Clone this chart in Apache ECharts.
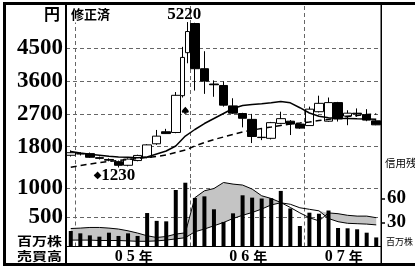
<!DOCTYPE html>
<html><head><meta charset="utf-8">
<script src="https://cdn.jsdelivr.net/npm/echarts@6/dist/echarts.min.js"></script>
<style>html,body{margin:0;padding:0;background:#fff}#c{width:415px;height:266px}</style>
</head><body><div id="c"></div>
<script>
// ---- data ----
const months = ['2004-12',
 '2005-01','2005-02','2005-03','2005-04','2005-05','2005-06','2005-07','2005-08','2005-09','2005-10','2005-11','2005-12',
 '2006-01','2006-02','2006-03','2006-04','2006-05','2006-06','2006-07','2006-08','2006-09','2006-10','2006-11','2006-12',
 '2007-01','2007-02','2007-03','2007-04','2007-05','2007-06','2007-07','2007-08'];
const yearNames = ['2005','2006','2007'];
const yearLabels = ['05年','06年','07年'];
const priceTicks = [1800, 2700, 3600, 4500];
const volumeTicks = [500, 1000];
const creditTicks = [30, 60];

// monthly candles (index 12 = Dec 2005 drawn as two half-month candles)
const openP  = [1565,1610,1610,1500,1450,1390,1290,1420,1510,1880,2210,2190,null,5180,3940,3520,3480,2920,2710,2550,2060,2030,2440,2500,2420,2380,2760,2500,3010,2640,2720,2680,2510];
const closeP = [1635,1600,1510,1480,1430,1290,1460,1560,1850,2090,2160,3210,null,3940,3600,3500,2940,2720,2580,2080,2050,2460,2570,2420,2310,2830,2990,3010,2560,2720,2700,2530,2400];
const lowP   = [1530,1560,1490,1450,1400,1230,1260,1400,1480,1850,2150,2170,null,3340,3250,3170,2900,2700,2330,1900,1980,2000,2420,2120,2290,2380,2740,2480,2490,2390,2620,2500,2390];
const highP  = [1700,1650,1640,1530,1480,1420,1480,1580,1870,2260,2290,3300,null,5200,4420,3620,3590,3130,2730,2700,2300,2480,2760,2530,2440,2900,3200,3150,3030,2800,2850,2830,2560];
const halfMonthIndex = 12;
const halfOpen  = [3200, 4380];
const halfClose = [4250, 4960];
const halfLow   = [3150, 4090];
const halfHigh  = [4540, 5220];

const maShort = [1668,1627,1591,1564,1537,1517,1509,1495,1517,1600,1682,1819,2093,2272,2436,2574,2711,2848,2930,2958,2977,3004,3040,3004,2870,2725,2634,2596,2579,2577,2566,2560,2552];
const maLong  = [1235,1284,1325,1366,1394,1421,1449,1476,1504,1531,1572,1641,1709,1819,1915,1997,2066,2135,2203,2258,2299,2340,2382,2423,2450,2478,2519,2552,2588,2629,2656,2683,2697];

const volume = [265,225,190,168,236,180,225,180,572,438,430,966,1090,830,857,636,420,567,875,835,820,825,950,650,350,578,560,615,316,311,294,236,155];
const creditBuy  = [22.5,23,23.8,23.8,23,21.8,19.6,16.8,13.4,11.3,12.5,15.5,17.1,61,69.6,72.5,80,78,76.8,71.8,63.4,60,55,48.8,42,36,32,42,41,39,38,38,36];
const creditSell = [8,8,8,7.5,7.5,7.5,7,6.5,6.5,7,8,9.5,11,18.4,21.8,25.9,30,35,39,42.5,46.8,52,54.6,52.8,48.4,46.5,44.6,35,31,29,28.5,28,27];

const highMark = {index: 12, value: 5220};
const lowMark = {index: 5, value: 1230};
const splitMark = {index: 12, value: 2800};

// ---- derived structures ----
const yearStarts = months.map((m, i) => m.endsWith('-01') ? i : -1).filter(i => i >= 0);
const yearMid = yearNames.map(y => {
  const idx = months.map((m, i) => m.startsWith(y) ? i : -1).filter(i => i >= 0);
  return (idx[0] + idx[idx.length - 1] + 1) / 2;
});
const mainCandles = months.map((_, i) => openP[i] == null ? '-' : [openP[i], closeP[i], lowP[i], highP[i]]);
const halfSlots = [];
for (let i = 0; i < months.length * 2; i++) halfSlots.push('');
const halfCandles = halfSlots.map(() => '-');
for (let k = 0; k < 2; k++) halfCandles[halfMonthIndex * 2 + k] = [halfOpen[k], halfClose[k], halfLow[k], halfHigh[k]];
const creditGap = creditBuy.map((v, i) => Math.max(v - creditSell[i], 0));

const serif = '"Liberation Serif", "Times New Roman", serif';
const cjk = '"Noto Sans CJK JP", sans-serif';
const gridLine = {color: '#666', width: 1, type: [4, 3]};
const bigLabel = {color: '#000', fontFamily: serif, fontWeight: 'bold', fontSize: 23, margin: 3, formatter: (v) => String(v)};

const chart = echarts.init(document.getElementById('c'), null, {renderer: 'canvas'});
chart.setOption({
  animation: false,
  backgroundColor: '#fff',
  grid: [
    {left: 66, top: 6, width: 315, height: 173.5, outerBoundsMode: 'none'},
    {left: 66, top: 179.5, width: 315, height: 67, outerBoundsMode: 'none'}
  ],
  xAxis: [
    {type: 'category', gridIndex: 0, data: months, boundaryGap: true,
     axisLine: {show: false}, axisTick: {show: false}, axisLabel: {show: false},
     splitLine: {show: true, interval: (i) => yearStarts.indexOf(i) >= 0, showMaxLine: false, lineStyle: gridLine}},
    {type: 'category', gridIndex: 0, data: halfSlots, boundaryGap: true, show: false},
    {type: 'category', gridIndex: 1, data: months, boundaryGap: true, position: 'bottom',
     axisLine: {show: true, lineStyle: {color: '#000', width: 1}}, axisTick: {show: false}, axisLabel: {show: false},
     splitLine: {show: true, interval: (i) => yearStarts.indexOf(i) >= 0, showMaxLine: false, lineStyle: gridLine}},
    {type: 'value', gridIndex: 1, min: 0, max: months.length, interval: 1, position: 'bottom',
     axisLine: {show: false}, axisTick: {show: false}, splitLine: {show: false},
     axisLabel: {show: true, customValues: yearMid, margin: 2,
       formatter: (v) => { const k = yearMid.indexOf(v); if (k < 0) return ''; const s = yearLabels[k];
         return '{d|' + s[0] + '}{d|' + s[1] + '}{y|' + s[2] + '}'; },
       rich: {d: {fontFamily: serif, fontWeight: 'bold', fontSize: 16, color: '#000', padding: [0, 2]},
              y: {fontFamily: cjk, fontWeight: 'bold', fontSize: 14, color: '#000', padding: [0, 0, 0, 2]}}}}
  ],
  yAxis: [
    {type: 'value', gridIndex: 0, min: 900, max: 5661, interval: 900, position: 'left',
     axisLine: {show: false}, axisTick: {show: false, customValues: priceTicks},
     axisLabel: Object.assign({customValues: priceTicks}, bigLabel),
     splitLine: {show: true, lineStyle: gridLine}},
    {type: 'value', gridIndex: 1, min: 0, max: 1145, interval: 500, position: 'left',
     axisLine: {show: false}, axisTick: {show: false, customValues: volumeTicks},
     axisLabel: Object.assign({customValues: volumeTicks}, bigLabel),
     splitLine: {show: true, lineStyle: gridLine}},
    {type: 'value', gridIndex: 1, min: 0, max: 83.75, interval: 30, position: 'right',
     axisLine: {show: false},
     axisTick: {show: true, customValues: creditTicks, length: 4, inside: false, lineStyle: {color: '#000', width: 1.5}},
     axisLabel: {customValues: creditTicks, color: '#000', fontFamily: serif, fontWeight: 'bold', fontSize: 19, margin: 6, formatter: (v) => String(v)},
     splitLine: {show: false}}
  ],
  series: [
    {type: 'candlestick', name: 'price', xAxisIndex: 0, yAxisIndex: 0, data: mainCandles, barWidth: 9, z: 2,
     itemStyle: {color: '#fff', color0: '#000', borderColor: '#000', borderColor0: '#000', borderColorDoji: '#000', borderWidth: 1},
     markPoint: {symbol: 'circle', symbolSize: 0, silent: true, animation: false,
       data: [
         {coord: [highMark.index, highMark.value], label: {show: true, formatter: String(highMark.value), offset: [-1, -7],
           color: '#000', fontFamily: serif, fontWeight: 'bold', fontSize: 17}},
         {coord: [lowMark.index, lowMark.value], label: {show: true, formatter: '{a|◆}{b|' + lowMark.value + '}', offset: [-4, 8],
           rich: {a: {fontFamily: '"DejaVu Sans"', fontSize: 10, color: '#000'},
                  b: {fontFamily: serif, fontWeight: 'bold', fontSize: 17, color: '#000'}}}},
         {coord: [splitMark.index, splitMark.value], symbol: 'path://M5,0 C7,3 10,5 10,7.5 C10,9.5 8,10 6.5,9 L7,11 L3,11 L3.5,9 C2,10 0,9.5 0,7.5 C0,5 3,3 5,0 Z',
          symbolSize: [7, 7], itemStyle: {color: '#000'}, label: {show: false}}
       ]}},
    {type: 'candlestick', name: 'half', xAxisIndex: 1, yAxisIndex: 0, data: halfCandles, barWidth: 4.5, z: 2,
     itemStyle: {color: '#fff', color0: '#000', borderColor: '#000', borderColor0: '#000', borderWidth: 1}},
    {type: 'line', name: 'maShort', xAxisIndex: 0, yAxisIndex: 0, data: maShort, symbol: 'none', z: 3,
     lineStyle: {color: '#000', width: 1.5}},
    {type: 'line', name: 'maLong', xAxisIndex: 0, yAxisIndex: 0, data: maLong, symbol: 'none', z: 3,
     lineStyle: {color: '#000', width: 1.5, type: [6, 4]}},
    {type: 'line', name: 'creditBase', xAxisIndex: 2, yAxisIndex: 2, data: creditSell, stack: 'cr', symbol: 'none', z: 1, silent: true,
     lineStyle: {opacity: 0}},
    {type: 'line', name: 'creditFill', xAxisIndex: 2, yAxisIndex: 2, data: creditGap, stack: 'cr', symbol: 'none', z: 1, silent: true,
     lineStyle: {opacity: 0}, areaStyle: {color: '#c4c4c4', opacity: 1}},
    {type: 'bar', name: 'volume', xAxisIndex: 2, yAxisIndex: 1, data: volume, barWidth: 4, z: 2, clip: false,
     itemStyle: {color: '#000'}},
    {type: 'line', name: 'creditBuy', xAxisIndex: 2, yAxisIndex: 2, data: creditBuy, symbol: 'none', z: 3, clip: false,
     lineStyle: {color: '#000', width: 1}},
    {type: 'line', name: 'creditSell', xAxisIndex: 2, yAxisIndex: 2, data: creditSell, symbol: 'none', z: 3, clip: false,
     lineStyle: {color: '#000', width: 1}}
  ],
  graphic: [
    {type: 'rect', z: 100, shape: {x: 3, y: 2, width: 412, height: 3}, style: {fill: '#000'}},
    {type: 'rect', z: 100, shape: {x: 3, y: 2, width: 3, height: 264}, style: {fill: '#000'}},
    {type: 'rect', z: 100, shape: {x: 3, y: 263, width: 412, height: 3}, style: {fill: '#000'}},
    {type: 'rect', z: 100, shape: {x: 65, y: 2, width: 2, height: 264}, style: {fill: '#000'}},
    {type: 'rect', z: 100, shape: {x: 380.5, y: 2, width: 1.5, height: 264}, style: {fill: '#000'}},
    {type: 'text', z: 100, x: 52, y: 13.5, style: {text: '円', align: 'center', verticalAlign: 'middle', font: 'bold 16px ' + cjk, fill: '#000'}},
    {type: 'text', z: 100, x: 70, y: 14, style: {text: '修正済', align: 'left', verticalAlign: 'middle', font: 'bold 13px ' + cjk, fill: '#000', backgroundColor: '#fff', padding: [2, 1]}},
    {type: 'text', z: 100, x: 62, y: 241.5, scaleY: 0.8, style: {text: '百万株', align: 'right', verticalAlign: 'middle', font: 'bold 15px ' + cjk, fill: '#000'}},
    {type: 'text', z: 100, x: 62, y: 256, scaleY: 0.8, style: {text: '売買高', align: 'right', verticalAlign: 'middle', font: 'bold 15px ' + cjk, fill: '#000'}},
    {type: 'text', z: 100, x: 385, y: 163, style: {text: '信用残', align: 'left', verticalAlign: 'middle', font: '10.5px ' + cjk, fill: '#000'}},
    {type: 'text', z: 100, x: 386, y: 241.5, style: {text: '百万株', align: 'left', verticalAlign: 'middle', font: '9px ' + cjk, fill: '#000'}}
  ]
});
</script></body></html>
